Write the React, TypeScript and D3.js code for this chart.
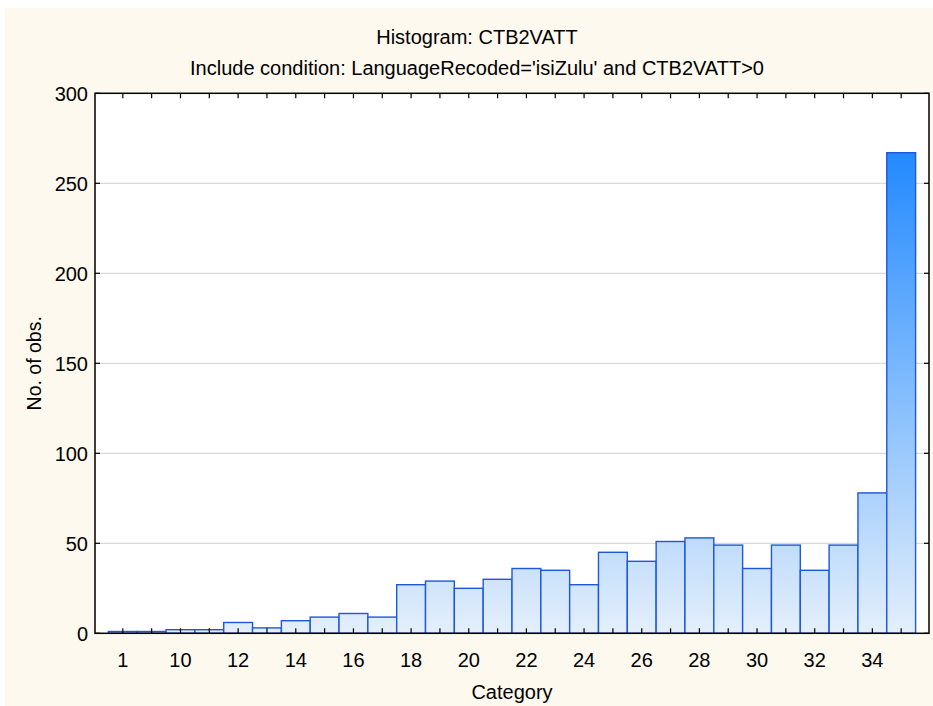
import React from "react";
import * as d3 from "d3";

const categories = ["1","9","10","11","12","13","14","15","16","17","18","19","20","21","22","23","24","25","26","27","28","29","30","31","32","33","34","35"];
const counts = [1,1,2,2,6,3,7,9,11,9,27,29,25,30,36,35,27,45,40,51,53,49,36,49,35,49,78,267];
const yTicks = [0,50,100,150,200,250,300];
const titleText = "Histogram: CTB2VATT";
const subtitleText = "Include condition: LanguageRecoded='isiZulu' and CTB2VATT>0";
const xLabel = "Category";
const yLabel = "No. of obs.";

const W = 933, H = 706;
const L = 95, R = 929, T = 93.3, B = 633.3;
const FONT = "'Liberation Sans', Arial, sans-serif";

export default function App() {
  const x = d3.scaleBand<string>().domain(categories).range([L, R]).paddingInner(0).paddingOuter(0.465);
  const y = d3.scaleLinear().domain([0, 300]).range([B, T]);
  const bw = x.bandwidth();
  return (
    <svg width={W} height={H} style={{ position: "absolute", left: 0, top: 0 }} fontFamily={FONT}>
      <defs>
        <linearGradient id="barGrad" gradientUnits="userSpaceOnUse" x1={0} x2={0} y1={y(0)} y2={y(300)}>
          <stop offset="0" stopColor="#e4effb" />
          <stop offset="1" stopColor="#0a7dff" />
        </linearGradient>
      </defs>
      <rect x={0} y={0} width={W} height={H} fill="#ffffff" />
      <rect x={5} y={8} width={W - 5} height={H - 8} fill="#fdf9ef" />
      <rect x={L} y={T} width={R - L} height={B - T} fill="#ffffff" />
      {yTicks.slice(1, -1).map((t) => (
        <line key={"g" + t} x1={L} x2={R} y1={y(t)} y2={y(t)} stroke="#d9d9d9" strokeWidth={1.2} />
      ))}
      {counts.map((c, i) => (
        <rect key={"b" + i} x={x(categories[i])!} y={y(c)} width={bw} height={y(0) - y(c)}
          fill="url(#barGrad)" stroke="#1d58da" strokeWidth={1.4} />
      ))}
      {categories.map((c) => {
        const cx = x(c)! + bw / 2;
        return (
          <g key={"t" + c}>
            <line x1={cx} x2={cx} y1={B} y2={B - 5} stroke="#000" strokeWidth={1.2} />
            <line x1={cx} x2={cx} y1={T} y2={T + 5} stroke="#000" strokeWidth={1.2} />
          </g>
        );
      })}
      {yTicks.map((t) => (
        <g key={"yt" + t}>
          <line x1={L} x2={L + 5} y1={y(t)} y2={y(t)} stroke="#000" strokeWidth={1.2} />
          <line x1={R} x2={R - 5} y1={y(t)} y2={y(t)} stroke="#000" strokeWidth={1.2} />
          <text x={88} y={y(t)} dy="0.36em" textAnchor="end" fontSize={20} fill="#000">{t}</text>
        </g>
      ))}
      <rect x={L} y={T} width={R - L} height={B - T} fill="none" stroke="#000" strokeWidth={1.5} />
      {categories.map((c, i) => (i % 2 === 0 ? (
        <text key={"xl" + c} x={x(c)! + bw / 2} y={667} textAnchor="middle" fontSize={20} fill="#000">{c}</text>
      ) : null))}
      <text x={477} y={44} textAnchor="middle" fontSize={20} fill="#000">{titleText}</text>
      <text x={477} y={75} textAnchor="middle" fontSize={20} fill="#000">{subtitleText}</text>
      <text x={(L + R) / 2} y={699} textAnchor="middle" fontSize={20} fill="#000">{xLabel}</text>
      <text transform={`translate(41,${(T + B) / 2}) rotate(-90)`} textAnchor="middle" fontSize={19.5} fill="#000">{yLabel}</text>
    </svg>
  );
}
